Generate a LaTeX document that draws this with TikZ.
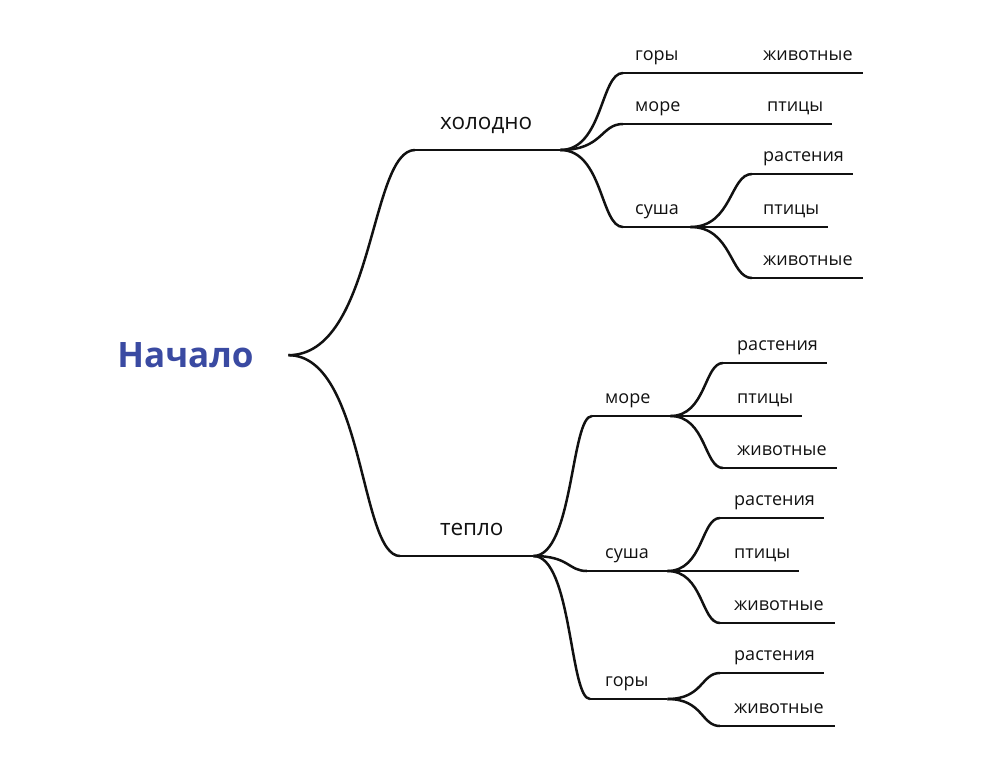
\documentclass[tikz,border=0pt]{standalone}
\usepackage{fontspec}
\setmainfont{Open Sans}
\usetikzlibrary{calc}
\definecolor{ink}{HTML}{111111}
\definecolor{rootblue}{HTML}{3A4AA2}
\newcommand\fLab{\fontsize{18}{21}\selectfont}
\newcommand\fOne{\fontsize{22.5}{26}\selectfont}
\newcommand\fRoot{\fontsize{35}{40}\selectfont\bfseries}
\begin{document}
\begin{tikzpicture}[x=1pt,y=-1pt,
  lab/.style={anchor=south west, font=\fLab, text=ink, align=left, inner ysep=0pt, text height=13pt, text depth=12pt},
  top/.style={anchor=south west, font=\fOne, text=ink, align=left, inner sep=0pt, text height=16pt, text depth=20pt},
  ul/.style={draw=ink, line width=2.5pt},
  conn/.style={to path={let \p1=(\tikztostart), \p2=(\tikztotarget) in
     .. controls ({\x1+0.68*(\x2-\x1)},\y1) and ({\x2-0.36*(\x2-\x1)},\y2) .. (\tikztotarget)}}
]
\useasboundingbox (0,0) rectangle (992,774);

\node[anchor=base, font=\fRoot, text=rootblue, inner sep=0pt] (root) at (185.5,367) {Начало};

% cold branch
\node[top, text width=145pt] (hol) at (415,150) {\hspace*{25pt}холодно};
\node[lab, inner xsep=12pt, text width=41pt] (hg) at (623,73) {горы};
\node[lab, inner xsep=12pt, text width=41pt] (hm) at (623,124) {море};
\node[lab, inner xsep=12pt, text width=43pt] (hs) at (623,227) {суша};
\node[lab, inner xsep=11pt, text width=89pt] (hgz) at (752,73) {животные};
\node[lab, inner xsep=15pt, text width=50pt] (hmp) at (752,124) {птицы};
\node[lab, inner xsep=11pt, text width=79pt] (hsr) at (752,174) {растения};
\node[lab, inner xsep=11pt, text width=54pt] (hsp) at (752,227) {птицы};
\node[lab, inner xsep=11pt, text width=89pt] (hsz) at (752,278) {животные};

% warm branch
\node[top, text width=133pt] (tep) at (400,556) {\hspace*{40pt}тепло};
\node[lab, inner xsep=13pt, text width=52pt] (tm) at (592,416) {море};
\node[lab, inner xsep=18pt, text width=44pt] (ts) at (587,571) {суша};
\node[lab, inner xsep=15pt, text width=47pt] (tg) at (590,699) {горы};
\node[lab, inner xsep=14pt, text width=76pt] (tmr) at (723,363) {растения};
\node[lab, inner xsep=14pt, text width=51pt] (tmp) at (723,416) {птицы};
\node[lab, inner xsep=14pt, text width=86pt] (tmz) at (723,468) {животные};
\node[lab, inner xsep=14pt, text width=76pt] (tsr) at (720,518) {растения};
\node[lab, inner xsep=14pt, text width=51pt] (tsp) at (720,571) {птицы};
\node[lab, inner xsep=14pt, text width=87pt] (tsz) at (720,623) {животные};
\node[lab, inner xsep=14pt, text width=76pt] (tgr) at (720,673) {растения};
\node[lab, inner xsep=14pt, text width=87pt] (tgz) at (720,726) {животные};

% underlines
\foreach \n in {hol,hg,hm,hs,hgz,hmp,hsr,hsp,hsz,tep,tm,ts,tg,tmr,tmp,tmz,tsr,tsp,tsz,tgr,tgz}
  \draw[ul] (\n.south west) -- (\n.south east);

% connectors
\draw[ul] ([xshift=34.5pt,yshift=-0.5pt]root.east) to[conn] (hol.south west);
\draw[ul] ([xshift=34.5pt,yshift=-0.5pt]root.east) to[conn] (tep.south west);
\draw[ul] (hol.south east) to[conn] (hg.south west);
\draw[ul] (hol.south east) to[conn] (hm.south west);
\draw[ul] (hol.south east) to[conn] (hs.south west);
\draw[ul] (hg.south east) to[conn] (hgz.south west);
\draw[ul] (hm.south east) to[conn] (hmp.south west);
\draw[ul] (hs.south east) to[conn] (hsr.south west);
\draw[ul] (hs.south east) to[conn] (hsp.south west);
\draw[ul] (hs.south east) to[conn] (hsz.south west);
\draw[ul] (tep.south east) to[conn] (tm.south west);
\draw[ul] (tep.south east) to[conn] (ts.south west);
\draw[ul] (tep.south east) to[conn] (tg.south west);
\draw[ul] (tm.south east) to[conn] (tmr.south west);
\draw[ul] (tm.south east) to[conn] (tmp.south west);
\draw[ul] (tm.south east) to[conn] (tmz.south west);
\draw[ul] (ts.south east) to[conn] (tsr.south west);
\draw[ul] (ts.south east) to[conn] (tsp.south west);
\draw[ul] (ts.south east) to[conn] (tsz.south west);
\draw[ul] (tg.south east) to[conn] (tgr.south west);
\draw[ul] (tg.south east) to[conn] (tgz.south west);
\end{tikzpicture}
\end{document}
